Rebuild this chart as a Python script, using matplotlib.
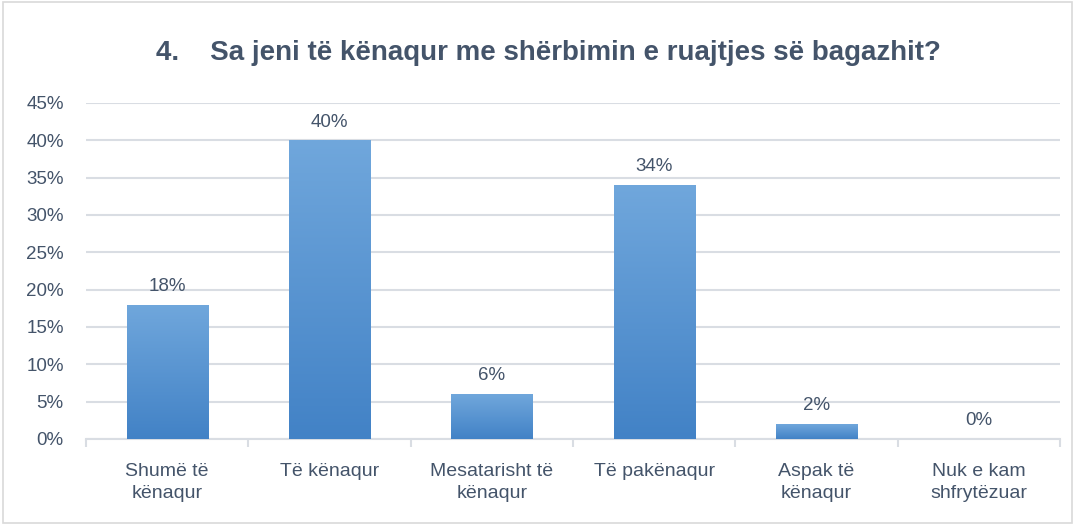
import matplotlib
matplotlib.use("Agg")
import matplotlib.pyplot as plt
import numpy as np
from matplotlib.patches import Rectangle

plt.rcParams['font.family'] = ['Liberation Sans', 'DejaVu Sans']

# data
categories = ["Shumë të\nkënaqur", "Të kënaqur", "Mesatarisht të\nkënaqur",
              "Të pakënaqur", "Aspak të\nkënaqur", "Nuk e kam\nshfrytëzuar"]
values = [18, 40, 6, 34, 2, 0]
title = "4.    Sa jeni të kënaqur me shërbimin e ruajtjes së bagazhit?"

text_color = "#44546a"
grid_color = "#d9dde3"

fig = plt.figure(figsize=(10.75, 5.25), dpi=100)
ax = fig.add_axes([0.080, 0.164, 0.906, 0.640])

x = np.arange(len(categories))
width = 0.5
bars = ax.bar(x, values, width=width, color="none", zorder=3)

# vertical gradient inside each bar
grad = np.linspace(0, 1, 256).reshape(-1, 1)
cmap = matplotlib.colors.LinearSegmentedColormap.from_list("g", ["#4282c6", "#70a7dc"])
for b in bars:
    if b.get_height() <= 0:
        continue
    bx, by = b.get_x(), b.get_y()
    im = ax.imshow(grad, cmap=cmap, origin="lower", aspect="auto",
                   extent=[bx, bx + b.get_width(), by, by + b.get_height()], zorder=3)
    im.set_clip_path(b)

for xi, v in zip(x, values):
    ax.text(xi, v + 1.3, f"{v}%", ha="center", va="bottom", fontsize=13.5, color=text_color)

ax.set_xlim(-0.5, len(categories) - 0.5)
ax.set_ylim(0, 45)
ax.set_yticks(np.arange(0, 46, 5))
ax.set_yticklabels([f"{t}%" for t in range(0, 46, 5)])
ax.yaxis.grid(True, color=grid_color, linewidth=1.5, zorder=0)
ax.set_axisbelow(True)
ax.tick_params(axis="y", length=0, labelsize=13.5, labelcolor=text_color, pad=16)

ax.set_xticks(x)
ax.set_xticklabels(categories, linespacing=1.45)
ax.tick_params(axis="x", length=0, labelsize=14, labelcolor=text_color, pad=17)
ax.set_xticks(np.arange(-0.5, len(categories), 1), minor=True)
ax.tick_params(axis="x", which="minor", length=6, color=grid_color, width=1.5)

for s in ["top", "right", "left"]:
    ax.spines[s].set_visible(False)
ax.spines["bottom"].set_color(grid_color)
ax.spines["bottom"].set_linewidth(1.5)

fig.text(0.51, 0.90, title, ha="center", va="center", fontsize=20,
         fontweight="bold", color=text_color)

fig.patches.append(Rectangle((0.003, 0.003), 0.994, 0.994, transform=fig.transFigure,
                             fill=False, edgecolor="#d9d9d9", linewidth=1.2))

fig.savefig("out.png", dpi=100)
